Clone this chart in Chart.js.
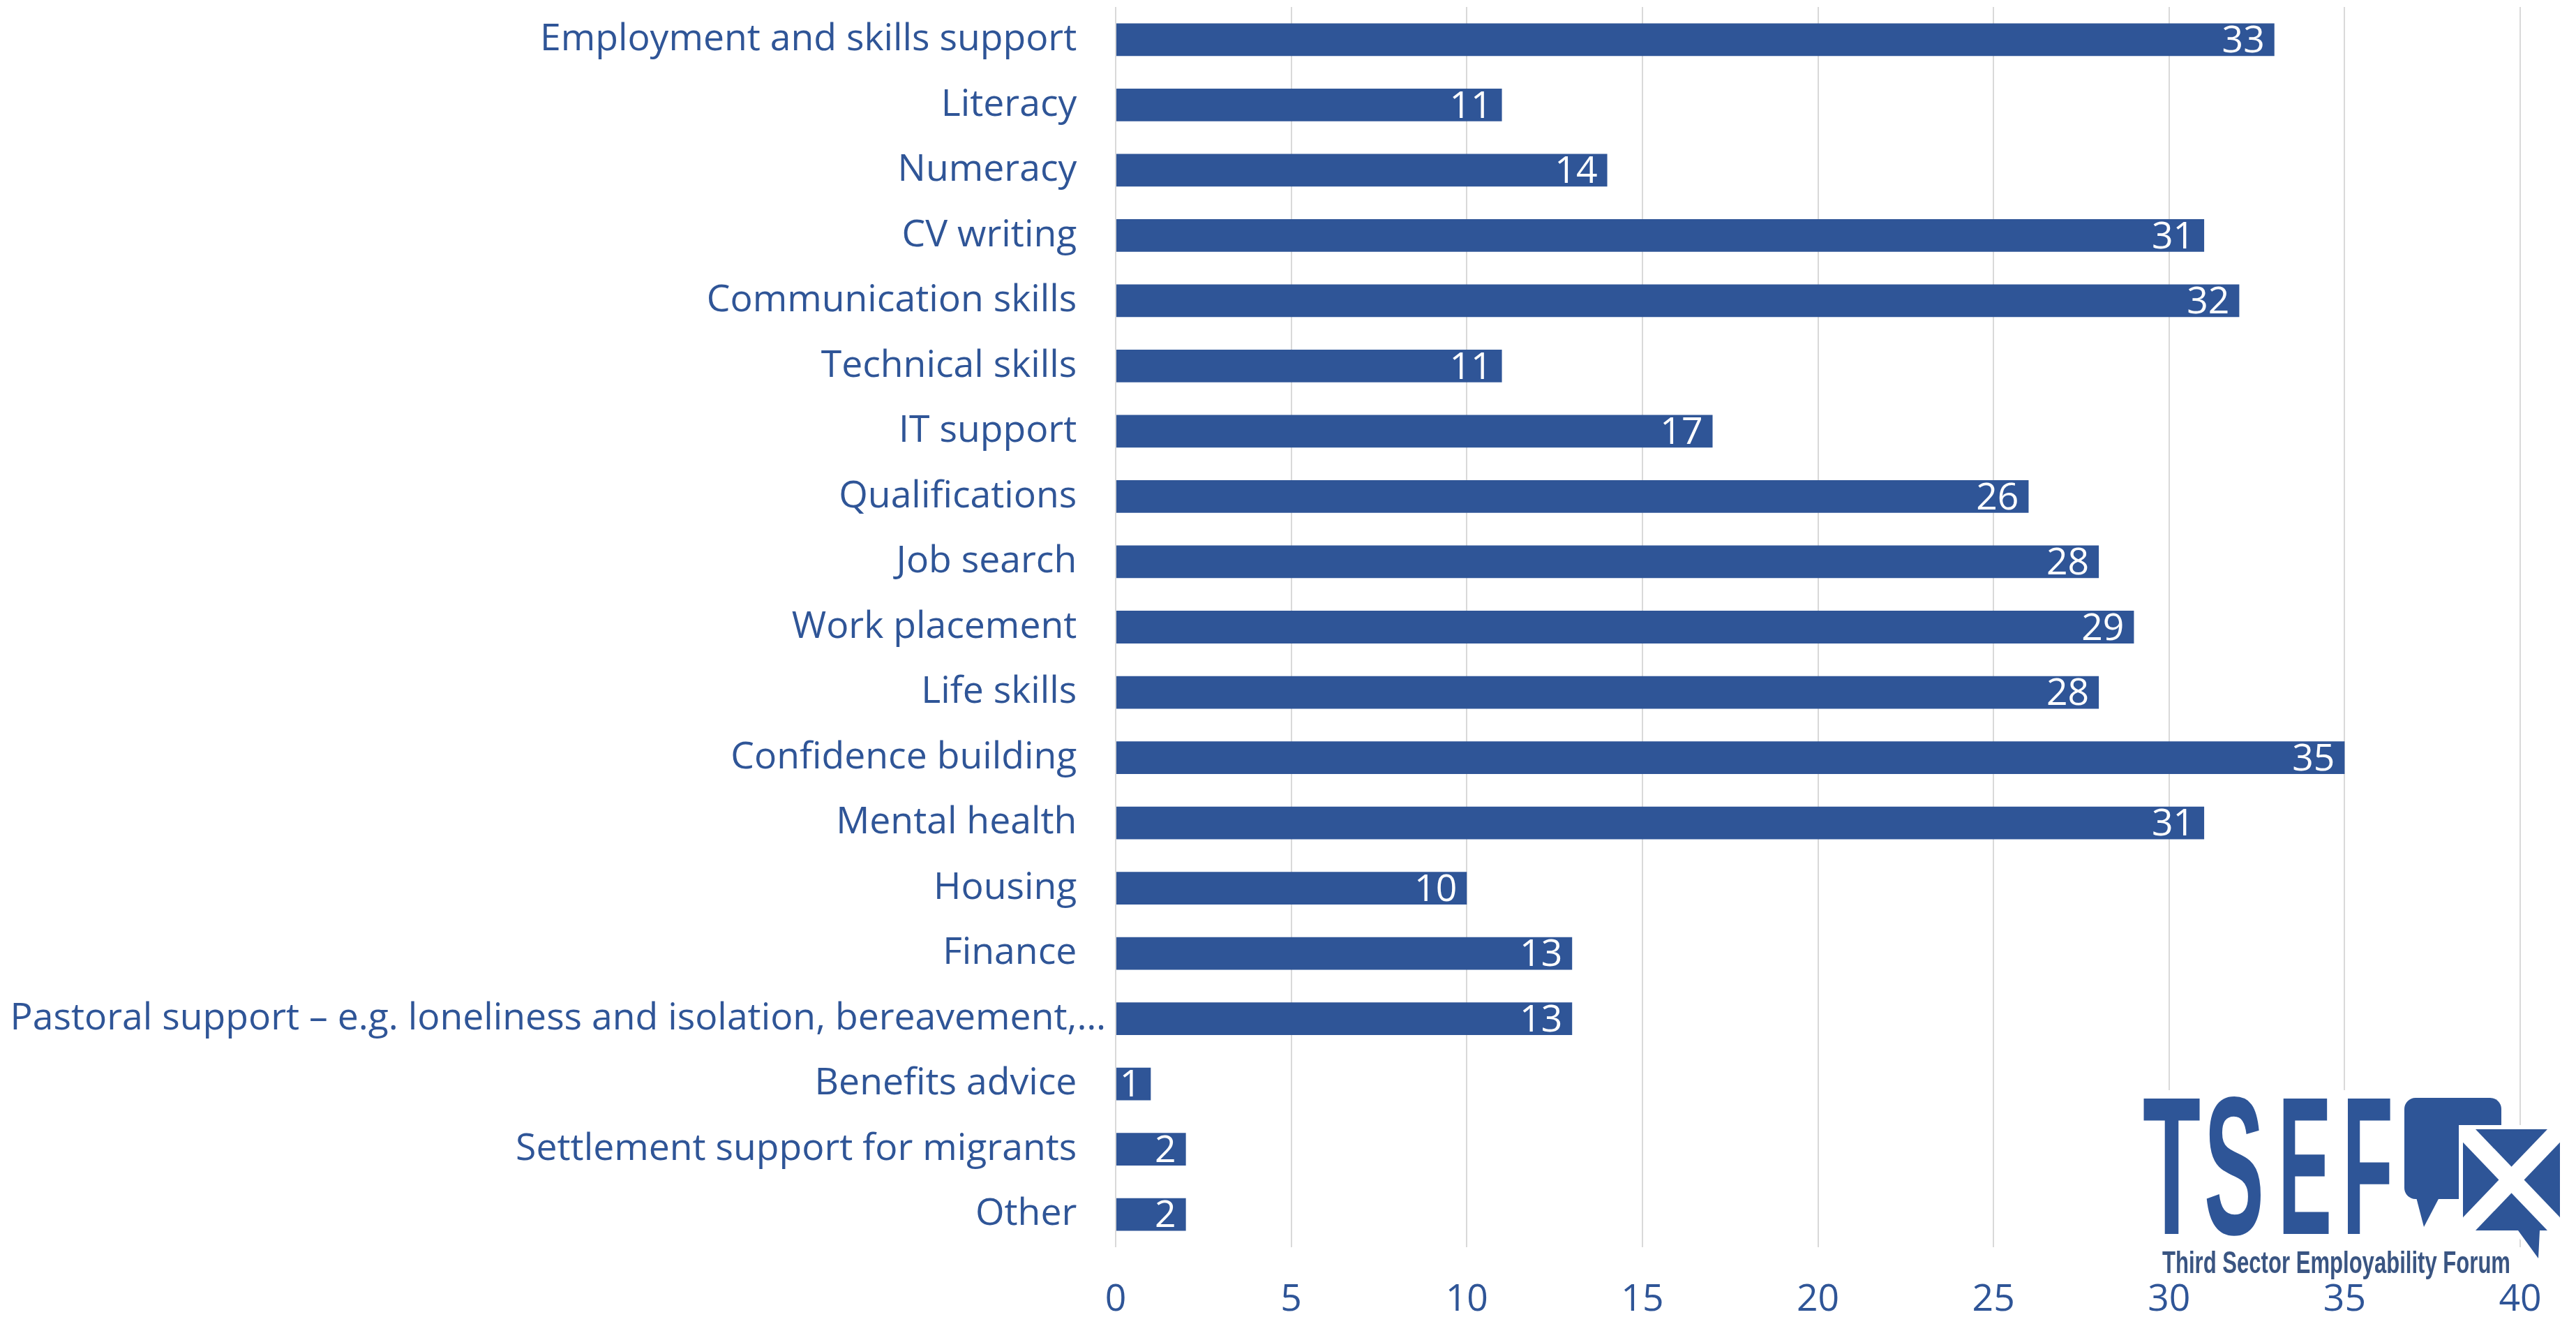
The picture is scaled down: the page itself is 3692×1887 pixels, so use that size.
<!DOCTYPE html>
<html>
<head>
<meta charset="utf-8">
<script src="https://cdn.jsdelivr.net/npm/chart.js@4/dist/chart.umd.min.js"></script>
<style>
  html, body { margin: 0; padding: 0; background: #ffffff; }
  #wrap { position: relative; width: 3692px; height: 1887px; }
  #chart { position: absolute; left: 0; top: 0; }
  #logo { position: absolute; left: 3066px; top: 1562px; }
</style>
</head>
<body>
<div id="wrap">
  <canvas id="chart" width="3692" height="1887"></canvas>
  <svg id="logo" width="610" height="275" viewBox="0 0 610 275">
    <rect x="0" y="0" width="528" height="275" fill="#ffffff"/>
    <g fill="#2E5597" font-family="Liberation Sans, Arial, sans-serif" font-weight="bold" font-size="282">
      <text x="5" y="206" textLength="83" lengthAdjust="spacingAndGlyphs">T</text>
      <text x="93" y="206" textLength="86" lengthAdjust="spacingAndGlyphs">S</text>
      <text x="199" y="206" textLength="77" lengthAdjust="spacingAndGlyphs">E</text>
      <text x="291" y="206" textLength="73" lengthAdjust="spacingAndGlyphs">F</text>
    </g>
    <!-- speech bubble -->
    <rect x="380" y="11" width="139" height="145" rx="16" ry="16" fill="#2E5597"/>
    <polygon points="396,150 432,150 408,196" fill="#2E5597"/>
    <!-- saltire bubble -->
    <g>
      <polygon points="458,50 609,50 609,207 582,207 578,250 540,207 458,207" fill="#ffffff"/>
      <polygon points="464,56 603,56 603,201 574,201 572,241 543,201 464,201" fill="#2E5597"/>
      <clipPath id="flagClip"><rect x="464" y="56" width="139" height="145"/></clipPath>
      <g clip-path="url(#flagClip)" stroke="#ffffff" stroke-width="26">
        <line x1="464" y1="56" x2="603" y2="201"/>
        <line x1="603" y1="56" x2="464" y2="201"/>
      </g>
    </g>
    <text x="33" y="262" textLength="499" lengthAdjust="spacingAndGlyphs" fill="#3A5582"
          font-family="Liberation Sans, Arial, sans-serif" font-weight="bold" font-size="44">Third Sector Employability Forum</text>
  </svg>
</div>
<script>
// Support offered to participants (number of organisations)
const categories = [
  'Employment and skills support',
  'Literacy',
  'Numeracy',
  'CV writing',
  'Communication skills',
  'Technical skills',
  'IT support',
  'Qualifications',
  'Job search',
  'Work placement',
  'Life skills',
  'Confidence building',
  'Mental health',
  'Housing',
  'Finance',
  'Pastoral support \u2013 e.g. loneliness and isolation, bereavement,\u2026',
  'Benefits advice',
  'Settlement support for migrants',
  'Other'
];
const counts = [33, 11, 14, 31, 32, 11, 17, 26, 28, 29, 28, 35, 31, 10, 13, 13, 1, 2, 2];
const xTicks = [0, 5, 10, 15, 20, 25, 30, 35, 40];

const BLUE = '#2F5597';
const FONT = { family: '"Open Sans", "Noto Sans", sans-serif', size: 53.5, weight: 'normal' };

// White value labels drawn at the inner end of each bar
const barValueLabels = {
  id: 'barValueLabels',
  afterDatasetsDraw(chart) {
    const { ctx } = chart;
    const meta = chart.getDatasetMeta(0);
    ctx.save();
    ctx.fillStyle = '#ffffff';
    ctx.font = `${FONT.weight} ${FONT.size}px ${FONT.family}`;
    ctx.textAlign = 'right';
    ctx.textBaseline = 'middle';
    meta.data.forEach((bar, i) => {
      ctx.fillText(String(counts[i]), bar.x - 14, bar.y + 3);
    });
    ctx.restore();
  }
};

new Chart(document.getElementById('chart'), {
  type: 'bar',
  data: {
    labels: categories,
    datasets: [{
      data: counts,
      backgroundColor: BLUE,
      borderWidth: 0,
      categoryPercentage: 1.0,
      barPercentage: 0.5
    }]
  },
  options: {
    indexAxis: 'y',
    responsive: false,
    animation: false,
    devicePixelRatio: 1,
    layout: { padding: { top: 10, right: 80, bottom: 0, left: 0 } },
    plugins: {
      legend: { display: false },
      tooltip: { enabled: false }
    },
    scales: {
      x: {
        min: 0,
        max: 40,
        afterBuildTicks(scale) { scale.ticks = xTicks.map(v => ({ value: v })); },
        afterFit(scale) {
          scale.height = 100;
          scale.paddingLeft = 0;
          scale.paddingRight = 0;
        },
        grid: { color: '#D9D9D9', lineWidth: 2, drawTicks: false },
        border: { display: false },
        ticks: { color: BLUE, font: FONT, padding: 44 }
      },
      y: {
        afterFit(scale) {
          scale.width = 1599;
          scale.paddingTop = 0;
          scale.paddingBottom = 0;
        },
        grid: { display: false, drawTicks: false },
        border: { display: false },
        ticks: {
          color: BLUE,
          font: FONT,
          padding: 14,
          autoSkip: false,
          // the truncated long label sits closer to the axis than the others
          callback(value) {
            const label = categories[value];
            return label.endsWith('\u2026') ? label : label + '   ';
          }
        }
      }
    }
  },
  plugins: [barValueLabels]
});
</script>
</body>
</html>
